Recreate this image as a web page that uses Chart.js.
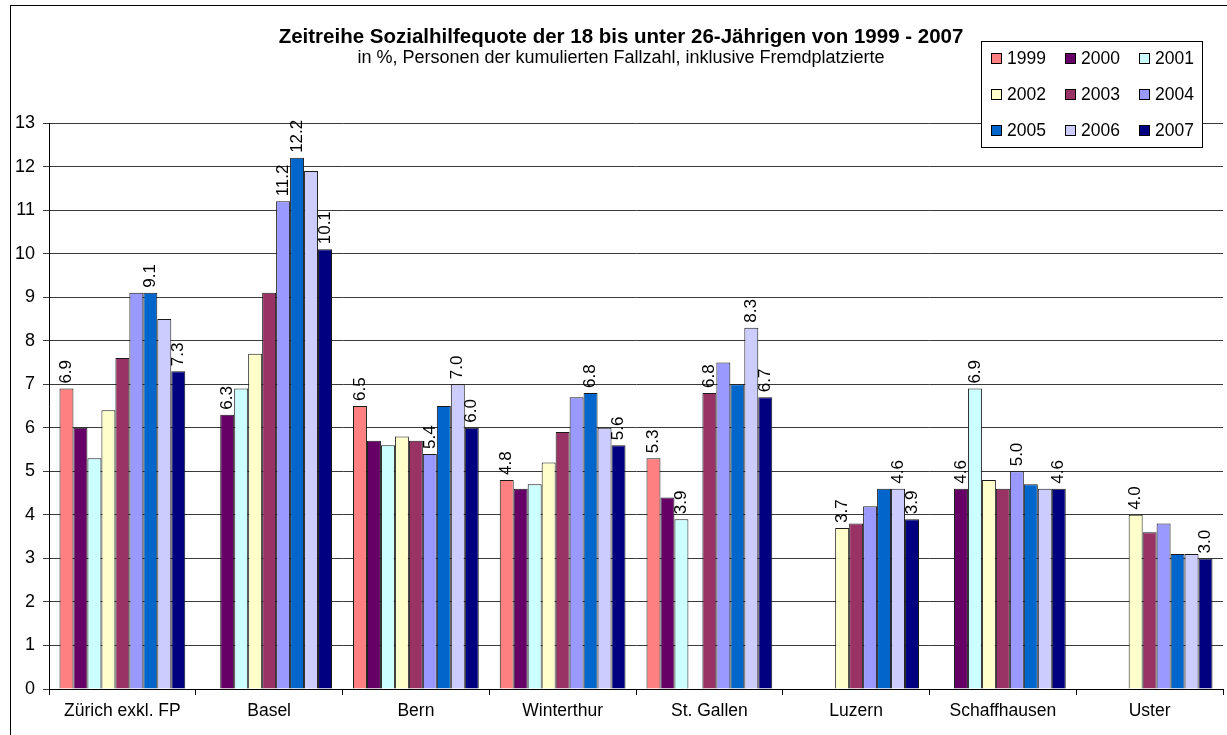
<!DOCTYPE html>
<html>
<head>
<meta charset="utf-8">
<script src="https://cdn.jsdelivr.net/npm/chart.js@4/dist/chart.umd.min.js"></script>
<style>
    body { margin: 0; background: #fff; }
    canvas { display: block; }
</style>
</head>
<body>
<canvas id="sozialhilfeChart" width="1227" height="735"></canvas>
<script>
// Cities (categories) along the x axis
const cities = ['Zürich exkl. FP', 'Basel', 'Bern', 'Winterthur', 'St. Gallen', 'Luzern', 'Schaffhausen', 'Uster'];

// One series per year, values per city in %, null where there is no bar
const years = ['1999', '2000', '2001', '2002', '2003', '2004', '2005', '2006', '2007'];
const q1999 = [6.9, null, 6.5, 4.8, 5.3, null, null, null];
const q2000 = [6.0, 6.3, 5.7, 4.6, 4.4, null, 4.6, null];
const q2001 = [5.3, 6.9, 5.6, 4.7, 3.9, null, 6.9, null];
const q2002 = [6.4, 7.7, 5.8, 5.2, null, 3.7, 4.8, 4.0];
const q2003 = [7.6, 9.1, 5.7, 5.9, 6.8, 3.8, 4.6, 3.6];
const q2004 = [9.1, 11.2, 5.4, 6.7, 7.5, 4.2, 5.0, 3.8];
const q2005 = [9.1, 12.2, 6.5, 6.8, 7.0, 4.6, 4.7, 3.1];
const q2006 = [8.5, 11.9, 7.0, 6.0, 8.3, 4.6, 4.6, 3.1];
const q2007 = [7.3, 10.1, 6.0, 5.6, 6.7, 3.9, 4.6, 3.0];

// Which years carry a value label, per city
const labelledYears = [
    ['1999', '2005', '2007'],
    ['2000', '2004', '2005', '2007'],
    ['1999', '2004', '2006', '2007'],
    ['1999', '2005', '2007'],
    ['1999', '2001', '2003', '2006', '2007'],
    ['2002', '2006', '2007'],
    ['2000', '2001', '2004', '2007'],
    ['2002', '2007']
];

// Y axis range
const yMin = 0, yMax = 13, yStep = 1;

const titleText = 'Zeitreihe Sozialhilfequote der 18 bis unter 26-Jährigen von 1999 - 2007';
const subtitleText = 'in %, Personen der kumulierten Fallzahl, inklusive Fremdplatzierte';

const seriesValues = [q1999, q2000, q2001, q2002, q2003, q2004, q2005, q2006, q2007];
const seriesColours = ['#FF8080', '#660066', '#CCFFFF', '#FFFFCC', '#993366', '#9999FF', '#0066CC', '#CCCCFF', '#000080'];

const FONT = '"Liberation Sans", Arial, sans-serif';

// Frame round the whole chart (right and bottom edges fall outside the picture)
const framePlugin = {
    id: 'frame',
    beforeDraw(chart) {
        const ctx = chart.ctx;
        ctx.save();
        ctx.fillStyle = '#fff';
        ctx.fillRect(0, 0, chart.width, chart.height);
        ctx.strokeStyle = '#000';
        ctx.lineWidth = 1;
        ctx.strokeRect(10.5, 5.5, 1400, 900);
        ctx.restore();
    }
};

// Rotated value labels above selected bars
const valueLabelPlugin = {
    id: 'valueLabels',
    afterDatasetsDraw(chart) {
        const ctx = chart.ctx;
        ctx.save();
        ctx.font = '17px ' + FONT;
        ctx.fillStyle = '#000';
        ctx.textAlign = 'left';
        ctx.textBaseline = 'middle';
        chart.data.datasets.forEach((ds, i) => {
            const meta = chart.getDatasetMeta(i);
            ds.data.forEach((v, j) => {
                if (v === null || !labelledYears[j].includes(ds.label)) return;
                const bar = meta.data[j];
                ctx.save();
                ctx.translate(bar.x, bar.y - 5);
                ctx.rotate(-Math.PI / 2);
                ctx.fillText(v.toFixed(1), 0, 0);
                ctx.restore();
            });
        });
        ctx.restore();
    }
};

// Title, subtitle and the boxed legend in the top right corner
const headerPlugin = {
    id: 'header',
    afterDraw(chart) {
        const ctx = chart.ctx;
        ctx.save();
        ctx.fillStyle = '#000';
        ctx.textAlign = 'center';
        ctx.textBaseline = 'middle';
        ctx.font = 'bold 20.5px ' + FONT;
        ctx.fillText(titleText, 621, 37);
        ctx.font = '18px ' + FONT;
        ctx.fillText(subtitleText, 621, 58);

        // legend box
        ctx.fillStyle = '#fff';
        ctx.fillRect(981, 41, 221, 106);
        ctx.strokeStyle = '#000';
        ctx.lineWidth = 1;
        ctx.strokeRect(981.5, 41.5, 221, 106);
        ctx.textAlign = 'left';
        ctx.font = '17.5px ' + FONT;
        chart.data.datasets.forEach((ds, i) => {
            const col = i % 3, row = Math.floor(i / 3);
            const x = 991 + col * 74, y = 58 + row * 36;
            ctx.fillStyle = ds.backgroundColor;
            ctx.fillRect(x, y - 5, 10, 10);
            ctx.strokeStyle = '#000';
            ctx.strokeRect(x + 0.5, y - 4.5, 10, 10);
            ctx.fillStyle = '#000';
            ctx.fillText(ds.label, x + 16, y + 1);
        });
        ctx.restore();
    }
};

const chartConfig = {
    type: 'bar',
    data: {
        labels: cities,
        datasets: years.map((year, i) => ({
            label: year,
            data: seriesValues[i],
            backgroundColor: seriesColours[i],
            borderColor: '#1a1a1a',
            borderWidth: 1,
            categoryPercentage: 0.857,
            barPercentage: 1.0
        }))
    },
    options: {
        responsive: false,
        animation: false,
        layout: {
            padding: { top: 123, right: 4, left: 0, bottom: 0 }
        },
        scales: {
            x: {
                grid: {
                    drawOnChartArea: false,
                    tickLength: 6,
                    color: '#000'
                },
                border: { color: '#000' },
                ticks: {
                    color: '#000',
                    padding: 6,
                    font: { family: FONT, size: 17.5 }
                },
                afterFit: (scale) => { scale.height = 46; }
            },
            y: {
                min: yMin,
                max: yMax,
                ticks: {
                    stepSize: yStep,
                    color: '#000',
                    padding: 8,
                    font: { family: FONT, size: 18 }
                },
                grid: {
                    color: '#3a3a3a',
                    tickLength: 6
                },
                border: { color: '#000' },
                afterFit: (scale) => { scale.width = 49; }
            }
        },
        plugins: {
            legend: { display: false },
            tooltip: { enabled: false },
            title: { display: false }
        }
    },
    plugins: [framePlugin, valueLabelPlugin, headerPlugin]
};

const sozialhilfeChart = new Chart('sozialhilfeChart', chartConfig);
</script>
</body>
</html>
